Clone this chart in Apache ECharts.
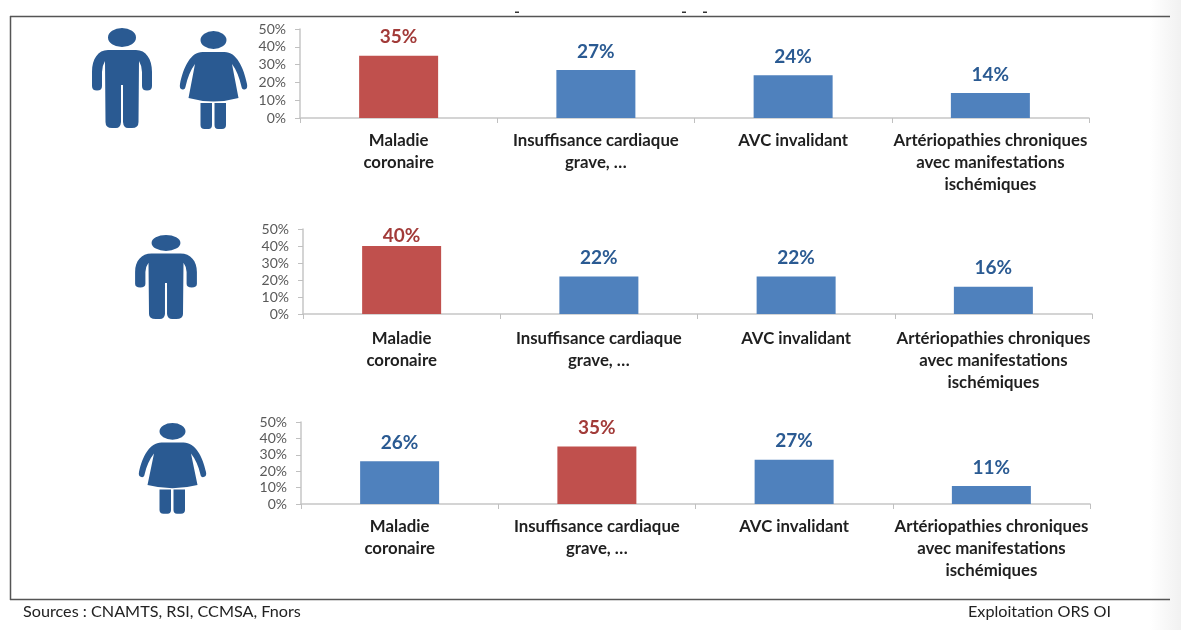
<!DOCTYPE html>
<html>
<head>
<meta charset="utf-8">
<style>html,body{margin:0;padding:0;background:#fff}#c{width:1181px;height:630px}</style>
<script src="https://cdn.jsdelivr.net/npm/echarts@6/dist/echarts.min.js"></script>
</head>
<body>
<div id="c"></div>
<script>
const categories = [
  'Maladie\ncoronaire',
  'Insuffisance cardiaque\ngrave, …',
  'AVC invalidant',
  'Artériopathies chroniques\navec manifestations\nischémiques'
];
const valuesAll = [35, 27, 24, 14];
const valuesMen = [40, 22, 22, 16];
const valuesWomen = [26, 35, 27, 11];
const yTicks = { min: 0, max: 50, interval: 10 };
const sourceLeft = 'Sources : CNAMTS, RSI, CCMSA, Fnors';
const sourceRight = 'Exploitation ORS OI';

const FONT = 'Lato, "Open Sans", sans-serif';
const RED = '#c0504d', BLUE = '#4f81bd', RED_T = '#a23b39', BLUE_T = '#2a5a92', ICON = '#2a5a92';
const panels = [
  { v: valuesAll,   left: 300, top: 29,  w: 789, h: 89, m: 12 },
  { v: valuesMen,   left: 303, top: 229, w: 789, h: 85, m: 13.5 },
  { v: valuesWomen, left: 301, top: 422, w: 789, h: 82, m: 12 }
];

const manPath = 'M-14,22 L14,22 C24,22 30,31 30,44 L30,58 Q30,62.5 25,62.5 Q20,62.5 20,58 L20,44 Q20,38 17,33 L16.5,94 Q16.5,100 10,100 L6,100 Q1.5,100 1,94 L1,57 L-1,57 L-1,94 Q-1.5,100 -6,100 L-10,100 Q-16.5,100 -16.5,94 L-17,33 Q-20,38 -20,44 L-20,58 Q-20,62.5 -25,62.5 Q-30,62.5 -30,58 L-30,44 C-30,31 -24,22 -14,22 Z ' +
  'M14,9.5 A14,9.5 0 1 1 -14,9.5 A14,9.5 0 1 1 14,9.5 Z';
const womanPath = 'M-11,21 L11,21 C23,21 30,36 33.5,53 Q34.5,58 31,58.5 Q28.5,59 27.8,55 C26,47 23,39 18.5,33 L25,67 Q0,74 -25,67 L-18.5,33 C-23,39 -26,47 -27.8,55 Q-28.5,59 -31,58.5 Q-34.5,58 -33.5,53 C-30,36 -23,21 -11,21 Z ' +
  'M-13,72 L-1.5,72 L-1.5,94 Q-1.5,98 -5,98 L-9,98 Q-13,98 -13,94 Z M1,72 L12.5,72 L12.5,94 Q12.5,98 8.5,98 L4.5,98 Q1,98 1,94 Z ' +
  'M13,9 A13,9 0 1 1 -13,9 A13,9 0 1 1 13,9 Z';

echarts.graphic.registerShape('manIcon', echarts.graphic.extendPath(manPath, {}));
echarts.graphic.registerShape('womanIcon', echarts.graphic.extendPath(womanPath, {}));

function icon(type, x, y, sx, sy) {
  return { type, x, y, scaleX: sx, scaleY: sy, z: 5, style: { fill: ICON } };
}
function hline(x1, x2, y, stroke, lw) {
  return { type: 'line', shape: { x1, y1: y, x2, y2: y }, style: { stroke, lineWidth: lw }, z: 2 };
}

const option = {
  animation: false,
  backgroundColor: '#ffffff',
  textStyle: { fontFamily: FONT },
  grid: panels.map(p => ({ left: p.left, top: p.top, width: p.w, height: p.h })),
  xAxis: panels.map((p, i) => ({
    type: 'category', gridIndex: i, data: categories,
    axisLine: { lineStyle: { color: '#c6c6c6', width: 1.5 } },
    axisTick: { show: true, length: 5, lineStyle: { color: '#c0c0c0' } },
    axisLabel: { interval: 0, margin: p.m, fontSize: 16.8, fontWeight: 'bold', lineHeight: 22, color: '#1f1f1f', fontFamily: FONT }
  })),
  yAxis: panels.map((p, i) => ({
    type: 'value', gridIndex: i, min: yTicks.min, max: yTicks.max, interval: yTicks.interval,
    splitLine: { show: false },
    axisLine: { show: true, lineStyle: { color: '#c6c6c6', width: 1.5 } },
    axisTick: { show: true, length: 5, lineStyle: { color: '#c0c0c0' } },
    axisLabel: { formatter: '{value}%', margin: 14, fontSize: 14, color: '#595959', fontFamily: FONT }
  })),
  series: panels.map((p, i) => {
    const top = Math.max(...p.v);
    return {
      type: 'bar', xAxisIndex: i, yAxisIndex: i, barWidth: 79,
      data: p.v.map(v => ({
        value: v,
        itemStyle: { color: v === top ? RED : BLUE },
        label: {
          show: true, position: 'top', formatter: '{c}%',
          distance: v === 40 ? 1 : 9,
          fontSize: 19, fontWeight: 'bold', fontFamily: FONT,
          color: v === top ? RED_T : BLUE_T
        }
      }))
    };
  }),
  graphic: [
    { type: 'rect', shape: { x: 1150, y: 0, width: 31, height: 630 }, z: 1,
      style: { fill: { type: 'linear', x: 0, y: 0, x2: 1, y2: 0, colorStops: [{ offset: 0, color: '#ffffff' }, { offset: 1, color: '#f1f1f1' }] } } },
    hline(10, 1170, 16.5, '#555555', 1.5),
    hline(10, 1170, 599.5, '#555555', 1.5),
    { type: 'line', shape: { x1: 10.5, y1: 16, x2: 10.5, y2: 600 }, style: { stroke: '#555555', lineWidth: 1.5 }, z: 2 },
    { type: 'rect', shape: { x: 515, y: 11.5, width: 4, height: 1.5 }, style: { fill: '#333' } },
    { type: 'rect', shape: { x: 682, y: 11.5, width: 4, height: 1.5 }, style: { fill: '#333' } },
    { type: 'rect', shape: { x: 703, y: 11.5, width: 4, height: 1.5 }, style: { fill: '#333' } },
    icon('manIcon', 122, 28, 1, 1),
    icon('womanIcon', 213.5, 31, 1, 1),
    icon('manIcon', 166, 235, 1.03, 0.84),
    icon('womanIcon', 172.5, 423, 1, 0.925),
    { type: 'text', x: 23, y: 612, z: 5, style: { text: sourceLeft, fontFamily: FONT, fontSize: 16.2, fill: '#222', textVerticalAlign: 'middle' } },
    { type: 'text', x: 968, y: 612, z: 5, style: { text: sourceRight, fontFamily: FONT, fontSize: 16.2, fill: '#222', textVerticalAlign: 'middle' } }
  ]
};
echarts.init(document.getElementById('c'), null, { renderer: 'canvas' }).setOption(option);
</script>
</body>
</html>
